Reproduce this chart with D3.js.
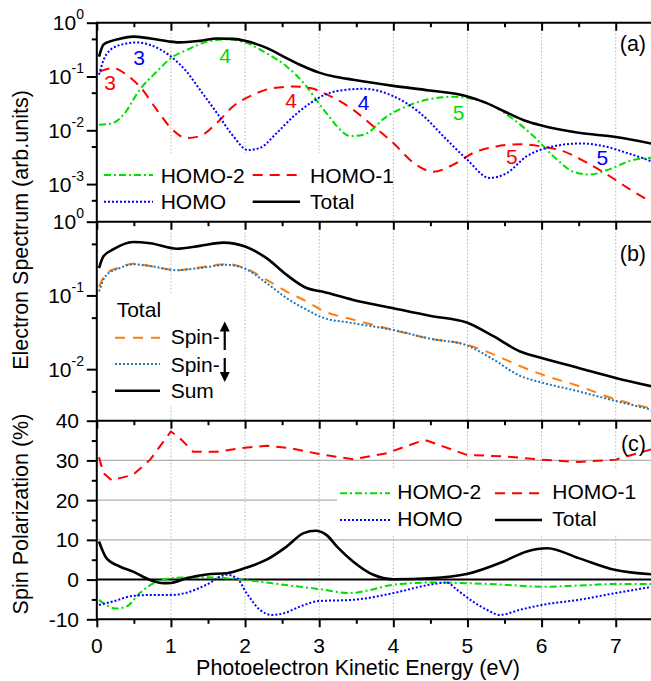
<!DOCTYPE html>
<html><head><meta charset="utf-8">
<script src="https://cdn.jsdelivr.net/npm/d3@7"></script>
<style>
body{margin:0;background:#fff;}
svg text{font-family:"Liberation Sans",Arial,sans-serif;}
</style></head>
<body><svg id="c" width="651" height="681"></svg>
<script>
// ---------- DATA ----------
const energyTicks = [0,1,2,3,4,5,6,7];
const energyMinor = [0.5,1.5,2.5,3.5,4.5,5.5,6.5,7.5];
const aLogTicks = [1,0.1,0.01,0.001];
const aLogExp = ["0","-1","-2","-3"];
const bLogTicks = [1,0.1,0.01];
const bLogExp = ["0","-1","-2"];
const logMinorA = [0.5,0.05,0.005,0.0005];
const logMinorB = [0.5,0.05,0.005];
const cTicks = [-10,0,10,20,30,40];
const cMinor = [-5,5,15,25,35];
const cGrid = [10,20,30];

// panel (a): [energy eV, spectrum]
const aHomo2 = [[0.03,0.0127],[0.22,0.0137],[0.36,0.0195],[0.58,0.057],[0.81,0.124],[1.0,0.22],[1.21,0.31],[1.48,0.44],[1.75,0.49],[2.0,0.43],[2.29,0.27],[2.56,0.154],[2.83,0.065],[3.0,0.031],[3.12,0.019],[3.24,0.0118],[3.42,0.0078],[3.6,0.0083],[3.91,0.018],[4.18,0.028],[4.49,0.038],[4.81,0.042],[5.0,0.04],[5.26,0.032],[5.62,0.016],[5.89,0.0078],[6.16,0.0033],[6.43,0.0017],[6.65,0.0015],[6.92,0.0019],[7.19,0.0027],[7.5,0.0031]];
const aHomo1 = [[0.04,0.124],[0.22,0.143],[0.4,0.108],[0.58,0.065],[0.81,0.024],[1.0,0.011],[1.21,0.0072],[1.39,0.0078],[1.62,0.0137],[1.84,0.028],[2.11,0.046],[2.38,0.061],[2.65,0.065],[2.88,0.061],[3.05,0.05],[3.46,0.024],[3.73,0.0119],[4.0,0.0058],[4.27,0.0025],[4.54,0.0017],[4.81,0.0023],[5.08,0.0038],[5.39,0.005],[5.71,0.0055],[6.0,0.005],[6.29,0.0041],[6.61,0.0025],[6.92,0.0014],[7.19,0.0008],[7.5,0.00045]];
const aHomo = [[0.03,0.108],[0.09,0.2],[0.18,0.31],[0.36,0.4],[0.54,0.43],[0.72,0.385],[1.0,0.235],[1.21,0.124],[1.39,0.057],[1.62,0.021],[1.84,0.0078],[2.04,0.0043],[2.2,0.0047],[2.43,0.009],[2.65,0.018],[2.88,0.032],[3.05,0.044],[3.28,0.055],[3.6,0.059],[4.0,0.043],[4.36,0.021],[4.72,0.0067],[4.99,0.0029],[5.3,0.0013],[5.53,0.0016],[5.8,0.0033],[6.07,0.0047],[6.52,0.0057],[6.83,0.0051],[7.15,0.0038],[7.5,0.0026]];
const aTotal = [[0.03,0.235],[0.09,0.39],[0.18,0.45],[0.3,0.5],[0.49,0.55],[0.72,0.51],[1.0,0.445],[1.12,0.43],[1.39,0.46],[1.62,0.51],[1.84,0.5],[2.0,0.46],[2.29,0.34],[2.52,0.235],[2.74,0.165],[3.0,0.118],[3.2,0.1],[3.46,0.087],[4.0,0.067],[4.49,0.055],[4.99,0.043],[5.26,0.032],[5.5,0.0224],[5.8,0.0147],[6.0,0.0123],[6.5,0.009],[7.0,0.0075],[7.5,0.0056]];
// peak-order annotations: [label, energy, value, series]
const aNotes = [["3",0.57,0.165,"homo"],["4",1.73,0.182,"homo2"],["3",0.178,0.055,"homo1"],["4",2.62,0.026,"homo1"],["4",3.60,0.0242,"homo"],["5",4.88,0.0153,"homo2"],["5",5.60,0.00232,"homo1"],["5",6.82,0.00225,"homo"]];

// panel (b)
const bUp = [[0.03,0.132],[0.13,0.2],[0.31,0.24],[0.49,0.27],[0.72,0.25],[1.08,0.22],[1.39,0.24],[1.75,0.266],[2.0,0.234],[2.29,0.163],[2.56,0.113],[2.83,0.083],[3.05,0.062],[3.46,0.047],[4.0,0.034],[4.49,0.026],[4.99,0.0215],[5.35,0.0159],[5.71,0.011],[6.0,0.0085],[6.5,0.0059],[7.0,0.0039],[7.5,0.0029]];
const bDown = [[0.03,0.113],[0.13,0.19],[0.31,0.235],[0.49,0.265],[0.72,0.25],[1.08,0.22],[1.39,0.235],[1.75,0.26],[2.0,0.23],[2.29,0.147],[2.56,0.092],[2.83,0.064],[3.05,0.05],[3.46,0.042],[4.0,0.034],[4.49,0.026],[4.99,0.021],[5.35,0.0135],[5.71,0.0081],[6.0,0.0066],[6.5,0.005],[7.0,0.0037],[7.5,0.0028]];
const bSum = [[0.03,0.235],[0.09,0.34],[0.22,0.42],[0.49,0.53],[0.72,0.51],[1.08,0.43],[1.39,0.47],[1.71,0.52],[2.0,0.46],[2.29,0.32],[2.56,0.19],[2.83,0.126],[3.05,0.112],[3.46,0.087],[4.0,0.067],[4.49,0.053],[4.99,0.043],[5.35,0.028],[5.71,0.0174],[6.0,0.0142],[6.5,0.0104],[7.0,0.0076],[7.5,0.0058]];

// panel (c): spin polarization %
const cHomo2 = [[0.03,-5.1],[0.13,-6.4],[0.25,-7.3],[0.4,-6.8],[0.58,-3.4],[0.81,-0.5],[1.0,0.35],[1.39,0.6],[1.75,0.35],[2.0,-0.1],[2.52,-1.3],[3.0,-2.4],[3.42,-3.4],[3.69,-2.6],[4.0,-1.3],[4.49,-0.75],[5.0,-0.9],[5.5,-1.3],[6.0,-1.8],[6.5,-1.5],[7.0,-1.1],[7.5,-1.1]];
const cHomo1 = [[0.03,30.8],[0.09,26.8],[0.2,25.0],[0.49,26.4],[0.72,30.2],[1.0,37.3],[1.12,35.6],[1.3,32.2],[1.62,32.2],[2.0,33.2],[2.29,33.7],[2.61,33.1],[3.0,31.6],[3.46,30.3],[3.91,31.8],[4.36,34.8],[4.45,35.0],[4.99,31.4],[5.5,31.0],[6.0,30.2],[6.5,29.6],[7.0,30.2],[7.5,32.9]];
const cHomo = [[0.03,-6.4],[0.22,-5.5],[0.49,-4.1],[0.72,-3.9],[1.0,-3.9],[1.21,-3.3],[1.48,-1.3],[1.75,1.2],[1.89,0.35],[2.02,-3.4],[2.2,-7.6],[2.36,-8.9],[2.52,-8.5],[2.74,-6.8],[3.0,-5.4],[3.46,-5.1],[4.0,-3.4],[4.49,-1.3],[4.72,-0.75],[4.86,-2.6],[5.04,-5.1],[5.26,-7.6],[5.44,-8.9],[5.71,-7.6],[6.0,-6.4],[6.5,-5.1],[7.0,-3.4],[7.5,-1.8]];
const cTotal = [[0.03,9.6],[0.13,5.4],[0.31,3.3],[0.49,2.0],[0.72,-0.1],[0.9,-0.9],[1.0,-0.85],[1.21,0.35],[1.48,1.3],[1.75,1.6],[2.0,2.9],[2.29,5.0],[2.56,8.3],[2.79,11.7],[2.95,12.3],[3.1,11.2],[3.24,8.3],[3.46,4.5],[3.73,1.2],[4.0,0.1],[4.49,0.35],[4.99,1.4],[5.48,4.5],[5.8,7.1],[6.08,7.9],[6.5,5.4],[7.0,2.4],[7.5,1.3]];

// ---------- STYLES ----------
const ST = {
  homo2:{color:"#00dd00",dash:"7,3,2,3",w:2},
  homo1:{color:"#ff0000",dash:"10,7",w:2},
  homo:{color:"#0000ff",dash:"2,2",w:2},
  total:{color:"#000",dash:null,w:2.6},
  up:{color:"#ff7f0e",dash:"10,8",w:2},
  down:{color:"#1f77b4",dash:"2,2",w:2}
};
const FONT = 21;

// ---------- SCALES ----------
const svg = d3.select("#c");
const L = 96.8, R = 652.8;
const x = d3.scaleLinear().domain([0,7.5]).range([L,R]);
const ya = d3.scaleLog().domain([2e-4,1]).range([221.7,22.7]);
const yb = d3.scaleLog().domain([2e-3,1]).range([420.7,221.7]);
const yc = d3.scaleLinear().domain([-10,40]).range([619.3,420.7]);
const panels = [{y:ya,key:"a"},{y:yb,key:"b"},{y:yc,key:"c"}];

const defs = svg.append("defs");
panels.forEach(p=>{
  const r = p.y.range();
  defs.append("clipPath").attr("id","clip"+p.key).append("rect")
    .attr("x",L).attr("y",r[1]).attr("width",R-L).attr("height",r[0]-r[1]);
});

// ---------- GRID ----------
panels.forEach(p=>{
  const r = p.y.range();
  svg.append("g").selectAll("line").data(energyTicks.slice(1)).join("line")
    .attr("x1",d=>x(d)).attr("x2",d=>x(d)).attr("y1",r[1]).attr("y2",r[0])
    .attr("stroke","#b4b4b4").attr("stroke-width",1).attr("stroke-dasharray","1.5,2");
});
svg.append("g").selectAll("line").data(cGrid).join("line")
  .attr("x1",L).attr("x2",R).attr("y1",d=>yc(d)).attr("y2",d=>yc(d))
  .attr("stroke","#b0b0b0").attr("stroke-width",1.3);

// ---------- LEGEND BACKGROUNDS ----------
svg.append("rect").attr("x",L+2).attr("y",153).attr("width",263).attr("height",ya.range()[0]-153-1).attr("fill","#fff");
svg.append("rect").attr("x",L+2).attr("y",295).attr("width",144).attr("height",110).attr("fill","#fff");
svg.append("rect").attr("x",337).attr("y",470).attr("width",R-337).attr("height",64).attr("fill","#fff");

// zero line in (c)
svg.append("line").attr("x1",L).attr("x2",R).attr("y1",yc(0)).attr("y2",yc(0)).attr("stroke","#000").attr("stroke-width",2);

// ---------- CURVES ----------
function draw(data, yS, st, clip, curve){
  const line = d3.line().x(d=>x(d[0])).y(d=>yS(d[1])).curve(curve||d3.curveMonotoneX);
  svg.append("path").datum(data).attr("d",line).attr("fill","none")
    .attr("stroke",st.color).attr("stroke-width",st.w)
    .attr("stroke-dasharray",st.dash).attr("stroke-linejoin","round")
    .attr("clip-path","url(#clip"+clip+")");
}
draw(aHomo2,ya,ST.homo2,"a");
draw(aHomo1,ya,ST.homo1,"a");
draw(aHomo,ya,ST.homo,"a");
draw(aTotal,ya,ST.total,"a");
draw(bUp,yb,ST.up,"b");
draw(bDown,yb,ST.down,"b");
draw(bSum,yb,ST.total,"b");
draw(cHomo1,yc,ST.homo1,"c",d3.curveLinear);
draw(cHomo2,yc,ST.homo2,"c");
draw(cHomo,yc,ST.homo,"c");
draw(cTotal,yc,ST.total,"c");

// annotations
svg.append("g").selectAll("text").data(aNotes).join("text")
  .attr("x",d=>x(d[1])).attr("y",d=>ya(d[2])).attr("text-anchor","middle")
  .attr("font-size",FONT).attr("fill",d=>ST[d[3]].color).text(d=>d[0]);

// ---------- AXES ----------
function styleAxis(g){
  g.select(".domain").remove();
  g.selectAll("line").attr("stroke","#000").attr("stroke-width",2);
}
// left frame
svg.append("line").attr("x1",L).attr("x2",L).attr("y1",ya.range()[1]-1).attr("y2",yc.range()[0]+1)
  .attr("stroke","#000").attr("stroke-width",2);
// horizontal frame lines with downward ticks
[ya.range()[1], ya.range()[0], yb.range()[0], yc.range()[0]].forEach(yy=>{
  svg.append("line").attr("x1",L).attr("x2",R).attr("y1",yy).attr("y2",yy).attr("stroke","#000").attr("stroke-width",2);
  svg.append("g").attr("transform",`translate(0,${yy})`)
    .call(d3.axisBottom(x).tickValues(energyTicks).tickSize(8).tickFormat("")).call(styleAxis);
  svg.append("g").attr("transform",`translate(0,${yy})`)
    .call(d3.axisBottom(x).tickValues(energyMinor).tickSize(4.5).tickFormat("")).call(styleAxis);
});
// x tick labels
svg.append("g").selectAll("text").data(energyTicks).join("text")
  .attr("x",d=>x(d)).attr("y",653).attr("text-anchor","middle").attr("font-size",FONT).text(d=>d);

// y axes
function yAxis(scale, major, minor){
  svg.append("g").attr("transform",`translate(${L},0)`)
    .call(d3.axisLeft(scale).tickValues(major).tickSize(10).tickFormat("")).call(styleAxis);
  svg.append("g").attr("transform",`translate(${L},0)`)
    .call(d3.axisLeft(scale).tickValues(minor).tickSize(5).tickFormat("")).call(styleAxis);
}
yAxis(ya,aLogTicks,logMinorA);
yAxis(yb,bLogTicks,logMinorB);
yAxis(yc,cTicks,cMinor);
function logLabels(scale, ticks, exps){
  ticks.forEach((t,i)=>{
    const tx = svg.append("text").attr("x",84).attr("y",scale(t)+7.5)
      .attr("text-anchor","end").attr("font-size",FONT);
    tx.append("tspan").text("10");
    tx.append("tspan").attr("dy",-11).attr("font-size",14).text(exps[i]);
  });
}
logLabels(ya,aLogTicks,aLogExp);
logLabels(yb,bLogTicks,bLogExp);
svg.append("g").selectAll("text").data(cTicks).join("text")
  .attr("x",79).attr("y",d=>yc(d)+7.5).attr("text-anchor","end").attr("font-size",FONT).text(d=>d);

// axis titles
svg.append("text").attr("transform",`translate(28,230) rotate(-90)`).attr("text-anchor","middle")
  .attr("font-size",21.5).text("Electron Spectrum (arb.units)");
svg.append("text").attr("transform",`translate(28,514) rotate(-90)`).attr("text-anchor","middle")
  .attr("font-size",21.5).text("Spin Polarization (%)");
svg.append("text").attr("x",358).attr("y",675).attr("text-anchor","middle")
  .attr("font-size",21.5).text("Photoelectron Kinetic Energy (eV)");

// panel letters
[["(a)",51],["(b)",261],["(c)",451]].forEach(d=>{
  svg.append("text").attr("x",646).attr("y",d[1]).attr("text-anchor","end").attr("font-size",21.5).text(d[0]);
});

// ---------- LEGENDS ----------
function legendItem(x0, x1, ly, tx, baseline, st, label){
  svg.append("line").attr("x1",x0).attr("x2",x1).attr("y1",ly).attr("y2",ly)
    .attr("stroke",st.color).attr("stroke-width",st.w).attr("stroke-dasharray",st.dash);
  return svg.append("text").attr("x",tx).attr("y",baseline).attr("font-size",FONT).text(label);
}
// (a)
legendItem(104,153,175,160.7,182.7,ST.homo2,"HOMO-2");
legendItem(252.7,300,175,310,182.7,ST.homo1,"HOMO-1");
legendItem(104,153,201.7,160.7,209.3,ST.homo,"HOMO");
legendItem(252.7,300,201.7,310,209.3,ST.total,"Total");
// (b)
svg.append("text").attr("x",116.7).attr("y",317.3).attr("font-size",FONT).text("Total");
const tUp = legendItem(115,160,337.7,170.7,344,ST.up,"Spin-");
const tDn = legendItem(115,160,364,170.7,371.7,ST.down,"Spin-");
legendItem(115,160,390.7,170.7,398.3,ST.total,"Sum");
function arrow(textSel, top, bottom, up){
  const ax = 170.7 + textSel.node().getComputedTextLength() + 5;
  const tip = up ? top : bottom, base = up ? bottom : top;
  const hl = up ? 10 : -10;
  svg.append("line").attr("x1",ax).attr("x2",ax).attr("y1",base).attr("y2",tip+hl*0.8)
    .attr("stroke","#000").attr("stroke-width",2.2);
  svg.append("path").attr("d",`M${ax},${tip} L${ax-5},${tip+hl} L${ax+5},${tip+hl} Z`).attr("fill","#000");
}
arrow(tUp,321.5,350,true);
arrow(tDn,358,382,false);
// (c)
legendItem(340,390,493.3,397.3,499.3,ST.homo2,"HOMO-2");
legendItem(495,542,493.3,552.3,499.3,ST.homo1,"HOMO-1");
legendItem(340,390,520,397.3,526,ST.homo,"HOMO");
legendItem(495,542,520,552.3,526,ST.total,"Total");
</script></body></html>
